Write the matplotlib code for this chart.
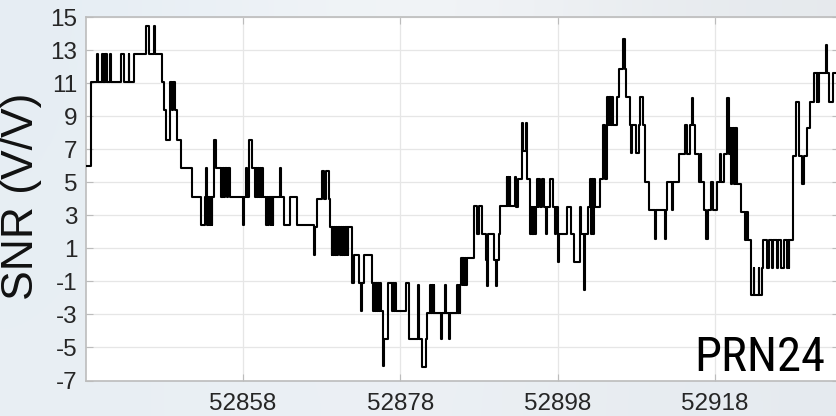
import numpy as np
import matplotlib
matplotlib.use("Agg")
import matplotlib.pyplot as plt
from matplotlib import font_manager

plt.rcParams['axes.unicode_minus'] = False

# SNR record for PRN24: step changes (days after t0) and the level held after each change
t0 = 52838
t_change = [
    0.0, 0.72, 1.45, 1.55, 2.08, 2.16, 2.28, 2.36, 2.46, 2.54, 2.62, 2.70, 3.13, 3.22,
    4.53, 4.86, 5.45, 5.55, 6.13, 7.62, 8.04, 8.72, 8.82, 9.65, 9.9, 10.16, 10.67, 10.92,
    11.11, 11.37, 11.62, 12.06, 13.46,
    14.65, 15.2, 15.33, 15.42, 15.55, 15.62, 15.72, 15.8, 15.92, 16.0, 16.1, 16.34, 16.6,
    17.19, 17.28, 17.38, 17.46, 17.58, 17.66, 17.95, 18.03, 18.33, 19.98, 20.12, 20.36,
    20.45, 20.7, 21.12, 21.5, 21.6, 21.75, 21.85, 22.0, 22.1, 22.3, 22.4, 22.6, 22.95,
    23.05, 23.2, 23.3, 23.5, 23.6, 23.75, 23.85, 24.72, 24.85, 25.23, 26.0, 26.88,
    28.99, 29.2, 29.35, 30.06, 30.35, 30.6, 30.9, 31.1, 31.25, 31.35, 31.5, 31.6, 31.75,
    31.85, 32.0, 32.1, 32.3, 32.4, 32.55, 32.65, 32.8, 32.9, 33.05, 33.15, 33.3, 33.4,
    33.86, 34.16, 34.71, 35.05, 35.15, 35.34, 36.4, 36.55, 36.65, 36.8, 36.9, 37.05,
    37.15, 37.3, 37.4, 37.55, 37.85, 37.95, 38.45, 38.95, 39.05, 39.2, 39.3, 39.45,
    40.76, 41.1,
    42.2, 42.37, 42.71, 43.22, 43.43, 43.77, 43.9, 44.0, 44.15, 44.22, 44.32, 45.13,
    45.3, 45.68, 45.8, 46.18, 46.32, 47.24, 47.35, 47.45, 47.55, 47.62, 47.71, 47.9,
    48.0, 48.15, 48.25, 48.4, 48.5, 49.36, 49.7, 50.04, 50.42, 50.88, 51.0, 51.1, 51.85,
    52.2, 52.3, 52.5, 52.7, 53.51, 53.6, 53.7, 53.8, 53.9, 53.95, 54.57,
    54.73, 54.94, 55.45, 55.62, 55.95, 56.15, 56.5, 56.6, 56.7, 56.8, 56.9, 57.0, 57.1,
    57.2, 57.35, 57.45, 57.55, 57.69, 58.03, 58.2, 58.5, 58.62, 59.0, 59.39, 59.68,
    59.81, 60.02, 60.2, 61.2, 61.71, 62.01, 62.8, 62.98, 63.3, 63.45, 63.83, 64.15,
    64.28, 64.38, 64.5, 64.6, 64.72, 65.4, 65.82, 66.07, 66.24, 66.4, 66.5, 66.6, 66.7,
    66.8, 66.9, 67.0, 67.5, 67.8, 68.28, 68.55,
    68.62, 69.2, 69.37, 69.5, 69.92, 70.34, 70.47, 70.9, 71.11, 71.61, 72.38, 72.55,
    73.68, 73.8, 73.95, 74.58, 74.68, 75.42, 76.19, 76.48, 76.82, 77.03, 77.2, 77.4,
    77.96, 78.17, 78.27, 78.6, 78.81, 79.05, 79.53, 79.7, 80.29, 80.63, 80.72, 81.14,
    81.48, 81.75,
    81.9, 82.0, 82.1, 82.2, 82.3, 82.4, 82.5, 82.6, 82.7, 82.8, 83.3, 83.85, 83.95,
    84.05, 84.12, 84.23, 84.52, 84.9, 85.0, 85.55, 85.65, 85.95, 86.05, 86.64, 86.85,
    87.19, 87.32, 87.83, 87.98, 88.33, 88.76, 89.18, 89.25, 89.35, 89.43, 89.94, 90.3,
    90.65, 91.0, 91.3, 91.72, 92.1, 92.6, 92.9, 93.0, 93.1, 93.2, 94.05, 94.2, 94.51,
    94.94, 95.8,
]
snr = [
    6.0, 11.1, 12.8, 11.1, 12.8, 11.1, 12.8, 11.1, 12.8, 11.1, 12.8, 11.1, 12.8, 11.1,
    12.8, 11.1, 12.8, 11.1, 12.8, 14.5, 12.8, 14.5, 12.8, 11.1, 9.4, 7.6, 11.1, 9.4,
    11.1, 9.4, 7.6, 5.9, 4.1,
    2.4, 4.1, 5.9, 2.4, 4.1, 2.4, 4.1, 2.4, 4.1, 2.4, 4.1, 7.6, 5.9,
    4.1, 5.9, 4.1, 5.9, 4.1, 5.9, 4.1, 5.9, 4.1, 2.4, 4.1, 5.9,
    4.1, 7.6, 5.9, 4.1, 5.9, 4.1, 5.9, 4.1, 5.9, 4.1, 5.9, 4.1, 2.4,
    4.1, 2.4, 4.1, 2.4, 4.1, 2.4, 4.1, 5.9, 4.1, 2.4, 4.1, 2.4,
    0.6, 2.3, 4.0, 5.7, 4.0, 5.7, 4.0, 2.3, 0.6, 2.3, 0.6, 2.3, 0.6,
    2.3, 0.6, 2.3, 0.6, 2.3, 0.6, 2.3, 0.6, 2.3, 0.6, 2.3, 0.6, 2.3,
    -1.1, 0.6, -1.1, -2.8, -1.1, 0.6, -1.1, -2.8, -1.1, -2.8, -1.1, -2.8,
    -1.1, -2.8, -1.1, -2.8, -6.1, -4.5, -1.1, -2.8, -1.1, -2.8, -1.1, -2.8,
    -1.1, -4.5,
    -1.2, -4.5, -6.2, -4.5, -2.9, -1.2, -2.9, -1.2, -2.9, -1.2, -2.9, -4.5,
    -2.9, -1.2, -2.9, -4.5, -2.9, -1.2, -2.9, -1.2, -2.9, -1.2, 0.4, -1.2,
    0.4, -1.2, 0.4, -1.2, 0.4, 3.6, 1.9, 3.6, 1.9, 0.3, -1.3, 1.9, 0.3,
    -1.3, 0.3, 1.9, 3.6, 5.3, 3.6, 5.3, 3.6, 5.3, 3.6, 5.3,
    3.5, 5.2, 8.6, 6.9, 8.6, 5.2, 1.9, 3.5, 1.9, 3.5, 1.9, 3.5, 1.9,
    3.5, 5.2, 3.5, 5.2, 3.5, 5.2, 3.5, 1.9, 3.5, 5.2, 3.5, 1.9,
    3.5, 0.2, 1.9, 3.5, 1.9, 0.2, 3.5, 1.9, -1.5, 1.9, 3.5, 5.2,
    1.9, 5.2, 1.9, 5.2, 3.5, 5.2, 8.5, 5.2, 10.2, 8.5, 10.2, 8.5, 10.2,
    8.5, 10.2, 8.5, 10.2, 11.9, 13.7, 11.9,
    10.2, 8.5, 6.8, 8.5, 6.8, 8.5, 10.2, 8.5, 5.0, 3.3, 1.6, 3.3,
    1.6, 3.3, 5.0, 3.3, 5.0, 6.7, 8.5, 6.7, 8.5, 10.1, 8.5, 6.7,
    5.0, 6.7, 5.0, 3.3, 1.6, 3.3, 5.0, 3.3, 5.0, 6.7, 5.0, 6.7,
    10.1, 6.7,
    8.3, 4.9, 8.3, 6.6, 8.3, 4.9, 8.3, 4.9, 8.3, 4.9, 3.2, 1.5, 3.2,
    1.5, 3.2, 1.5, -1.8, -0.2, -1.8, -0.2, -1.8, -0.2, 1.5, -0.2, 1.5,
    -0.2, 1.5, -0.2, 1.5, -0.2, 1.5, -0.2, 1.5, -0.2, 1.5, 6.6, 9.9,
    6.6, 4.9, 6.6, 8.3, 9.9, 11.6, 9.9, 11.6, 9.9, 11.6, 13.3, 11.6, 9.9,
    11.6, 11.6,
]
y_ticks = list(range(-7, 16, 2))
x_ticks = [52858, 52878, 52898, 52918]

# a condensed face for the satellite tag if one is installed
installed = {f.name for f in font_manager.fontManager.ttflist}
narrow = None
for name in ['Liberation Sans Narrow', 'Arial Narrow', 'Roboto Condensed',
             'DejaVu Sans Condensed', 'Open Sans Condensed', 'Noto Sans Condensed']:
    if name in installed:
        narrow = name
        break

fig = plt.figure(figsize=(8.36, 4.16), dpi=100)

# pale slide backdrop behind the axes
bg = fig.add_axes([0, 0, 1, 1], zorder=-5)
grad = np.array([[[0.90, 0.93, 0.955], [0.965, 0.972, 0.98], [0.90, 0.915, 0.93]],
                 [[0.91, 0.935, 0.955], [0.93, 0.945, 0.96], [0.90, 0.92, 0.94]]])
bg.imshow(grad, aspect='auto', interpolation='bicubic', extent=[0, 1, 0, 1])
bg.axis('off')

ax = fig.add_axes([0.1025, 0.0853, 0.9015, 0.873])
ax.set_facecolor('white')
ax.step(t0 + np.array(t_change), snr, where='post', color='black', lw=1.5, zorder=3)

ax.set_xlim(52838, t0 + 95.8)
ax.set_ylim(-7, 15)
ax.set_yticks(y_ticks)
ax.set_yticklabels([str(v) for v in y_ticks])
ax.set_xticks(x_ticks)
ax.set_xticklabels([str(v) for v in x_ticks])
ax.grid(True, color='#e6e6e6', lw=0.9)
ax.set_axisbelow(True)
for side in ax.spines.values():
    side.set_color('#bcbcbc')
    side.set_linewidth(1.2)
ax.tick_params(direction='in', length=5, top=True, right=True, color='#bcbcbc',
               labelsize=17.5, labelcolor='#262626', pad=6)
ax.tick_params(axis='x', pad=9)
for lab in ax.get_xticklabels() + ax.get_yticklabels():
    lab.set_family(['Liberation Sans', 'DejaVu Sans'])

fig.text(22 / 836, 1 - 196 / 416, 'SNR (V/V)', rotation=90, ha='center', va='center',
         fontsize=32, color='#111111', family=['Liberation Sans', 'DejaVu Sans'])
if narrow:
    ax.text(0.981, 0.027, 'PRN24', transform=ax.transAxes, ha='right', va='baseline',
            fontsize=35, color='black', family=[narrow, 'Liberation Sans'])
else:
    ax.text(0.981, 0.03, 'PRN24', transform=ax.transAxes, ha='right', va='baseline',
            fontsize=30, color='black', family=['Liberation Sans', 'DejaVu Sans'])

fig.savefig('out.png', dpi=100)
